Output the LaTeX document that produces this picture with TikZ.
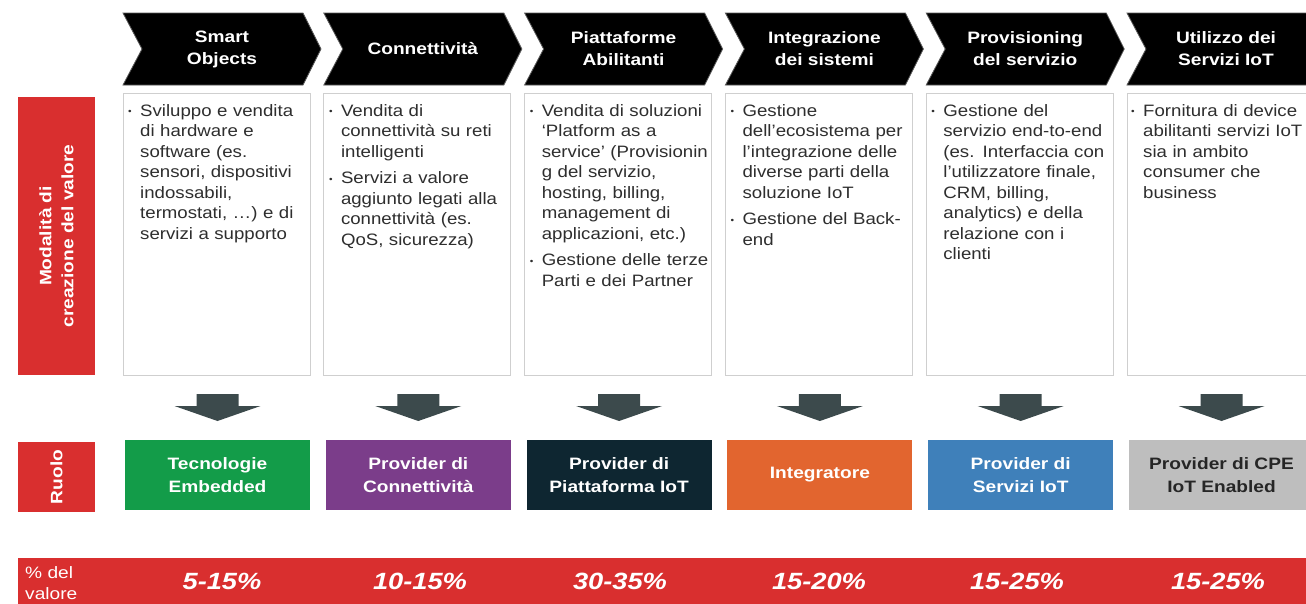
\documentclass[tikz,border=0pt]{standalone}
\usepackage{fontspec}
\setmainfont[FakeStretch=1.16]{Liberation Sans}
\newfontfamily\bodyfont[FakeStretch=1.13]{Liberation Sans}
\usetikzlibrary{positioning}

\definecolor{valred}{HTML}{D92F2F}
\definecolor{arrowgrey}{HTML}{3C4A4C}
\definecolor{boxline}{HTML}{CFCFCF}
\definecolor{bodytext}{HTML}{2E2E2E}
\definecolor{embgreen}{HTML}{139C49}
\definecolor{conpurple}{HTML}{7B3D8A}
\definecolor{platnavy}{HTML}{0E2631}
\definecolor{intorange}{HTML}{E2652F}
\definecolor{servblue}{HTML}{3F80BA}
\definecolor{cpegrey}{HTML}{BEBEBE}

% bullet items, text lines indented past the bullet
\newcommand{\itm}{\leftskip=12pt\noindent\llap{\makebox[12pt][l]{\raisebox{1.5pt}{\fontsize{9}{9}\selectfont\textbullet}}}}
\newcommand{\nextitm}{\par\vspace{6pt}\itm}

\tikzset{
  chevron/.style={fill=black, draw=black!65, line width=0.8pt},
  headtext/.style={text=white, font=\bfseries\fontsize{16.5}{22}\selectfont, align=center},
  textbox/.style={draw=boxline, line width=0.8pt, minimum width=187pt, minimum height=282pt, inner sep=0pt},
  bodytxt/.style={text=bodytext, font=\bodyfont\fontsize{16.5}{20.5}\selectfont, text width=190pt, align=left, inner sep=0pt, anchor=base west},
  blockarrow/.style={fill=arrowgrey},
  rolebox/.style={minimum width=185pt, minimum height=70pt, inner sep=0pt, text=white, font=\bfseries\fontsize{16.5}{23}\selectfont, align=center},
  sidelabel/.style={fill=valred, text=white, inner sep=0pt, font=\bfseries\fontsize{16.5}{22}\selectfont, align=center},
  pcttext/.style={text=white, font=\bfseries\itshape\fontsize{23.5}{26}\selectfont}
}

\begin{document}
\begin{tikzpicture}[x=1pt, y=-1pt]
\clip (0,0) rectangle (1306,603);

% header chevrons
\draw[chevron] (123,13) -- (303,13) -- (321,49) -- (303,85) -- (123,85) -- (142,49) -- cycle;
\node[headtext] (h1) at (222,49) {Smart\\Objects};
\draw[chevron] (323.8,13) -- (503.8,13) -- (521.8,49) -- (503.8,85) -- (323.8,85) -- (342.8,49) -- cycle;
\node[headtext] (h2) at (422.8,49) {Connettività};
\draw[chevron] (524.6,13) -- (704.6,13) -- (722.6,49) -- (704.6,85) -- (524.6,85) -- (543.6,49) -- cycle;
\node[headtext] (h3) at (623.6,49) {Piattaforme\\Abilitanti};
\draw[chevron] (725.4,13) -- (905.4,13) -- (923.4,49) -- (905.4,85) -- (725.4,85) -- (744.4,49) -- cycle;
\node[headtext] (h4) at (824.4,49) {Integrazione\\dei sistemi};
\draw[chevron] (926.2,13) -- (1106.2,13) -- (1124.2,49) -- (1106.2,85) -- (926.2,85) -- (945.2,49) -- cycle;
\node[headtext] (h5) at (1025.2,49) {Provisioning\\del servizio};
\draw[chevron] (1127,13) -- (1307,13) -- (1325,49) -- (1307,85) -- (1127,85) -- (1146,49) -- cycle;
\node[headtext] (h6) at (1226,49) {Utilizzo dei\\Servizi IoT};

% side labels
\node[sidelabel, minimum width=77pt, minimum height=278pt] (modal) at (56.5,236) {};
\node[text=white, font=\bfseries\fontsize{16.5}{22}\selectfont, align=center, rotate=90] (modaltxt) at (modal.center) {Modalità di\\creazione del valore};
\node[sidelabel, minimum width=77pt, minimum height=70pt] (ruolo) at (56.5,477) {};
\node[text=white, font=\bfseries\fontsize{16.5}{22}\selectfont, rotate=90] (ruolotxt) at (ruolo.center) {Ruolo};

% value creation boxes
\node[textbox] (box1) at (216.5,234) {};
\node[bodytxt] (txt1) at (128,116) {\itm Sviluppo e vendita\newline di hardware e\newline software (es.\newline sensori, dispositivi\newline indossabili,\newline termostati, …) e di\newline servizi a supporto\par};
\node[textbox] (box2) at (417.3,234) {};
\node[bodytxt] (txt2) at (328.8,116) {\itm Vendita di\newline connettività su reti\newline intelligenti\nextitm Servizi a valore\newline aggiunto legati alla\newline connettività (es.\newline QoS, sicurezza)\par};
\node[textbox] (box3) at (618.1,234) {};
\node[bodytxt] (txt3) at (529.6,116) {\itm Vendita di soluzioni\newline ‘Platform as a\newline service’ (Provisionin\newline g del servizio,\newline hosting, billing,\newline management di\newline applicazioni, etc.)\nextitm Gestione delle terze\newline Parti e dei Partner\par};
\node[textbox] (box4) at (818.9,234) {};
\node[bodytxt] (txt4) at (730.4,116) {\itm Gestione\newline dell’ecosistema per\newline l’integrazione delle\newline diverse parti della\newline soluzione IoT\nextitm Gestione del Back-\newline end\par};
\node[textbox] (box5) at (1019.7,234) {};
\node[bodytxt] (txt5) at (931.2,116) {\itm Gestione del\newline servizio end-to-end\newline (es. Interfaccia con\newline l’utilizzatore finale,\newline CRM, billing,\newline analytics) e della\newline relazione con i\newline clienti\par};
\node[textbox] (box6) at (1220.5,234) {};
\node[bodytxt] (txt6) at (1131,116) {\itm Fornitura di device\newline abilitanti servizi IoT\newline sia in ambito\newline consumer che\newline business\par};

% block arrows
\fill[blockarrow] (196.5,394) -- (238.5,394) -- (238.5,406) -- (260.5,406) -- (217.5,421) -- (174.5,406) -- (196.5,406) -- cycle;
\fill[blockarrow] (397.3,394) -- (439.3,394) -- (439.3,406) -- (461.3,406) -- (418.3,421) -- (375.3,406) -- (397.3,406) -- cycle;
\fill[blockarrow] (598.1,394) -- (640.1,394) -- (640.1,406) -- (662.1,406) -- (619.1,421) -- (576.1,406) -- (598.1,406) -- cycle;
\fill[blockarrow] (798.9,394) -- (840.9,394) -- (840.9,406) -- (862.9,406) -- (819.9,421) -- (776.9,406) -- (798.9,406) -- cycle;
\fill[blockarrow] (999.7,394) -- (1041.7,394) -- (1041.7,406) -- (1063.7,406) -- (1020.7,421) -- (977.7,406) -- (999.7,406) -- cycle;
\fill[blockarrow] (1200.5,394) -- (1242.5,394) -- (1242.5,406) -- (1264.5,406) -- (1221.5,421) -- (1178.5,406) -- (1200.5,406) -- cycle;

% roles
\node[rolebox, fill=embgreen] (role1) at (217.5,475) {Tecnologie\\Embedded};
\node[rolebox, fill=conpurple] (role2) at (418.3,475) {Provider di\\Connettività};
\node[rolebox, fill=platnavy] (role3) at (619.1,475) {Provider di\\Piattaforma IoT};
\node[rolebox, fill=intorange] (role4) at (819.9,475) {Integratore};
\node[rolebox, fill=servblue] (role5) at (1020.7,475) {Provider di\\Servizi IoT};
\node[rolebox, fill=cpegrey, text=black!85] (role6) at (1221.5,475) {Provider di CPE\\IoT Enabled};

% value share band
\fill[valred] (18,558) rectangle (1310,610);
\node[text=white, font=\fontsize{16.5}{21}\selectfont, align=left, anchor=base west, inner sep=0pt] (pctlabel) at (25,599) {\% del\\valore};
\node[pcttext] (pct1) at (222,581) {5-15\%};
\node[pcttext] (pct2) at (420,581) {10-15\%};
\node[pcttext] (pct3) at (620,581) {30-35\%};
\node[pcttext] (pct4) at (819,581) {15-20\%};
\node[pcttext] (pct5) at (1017,581) {15-25\%};
\node[pcttext] (pct6) at (1218,581) {15-25\%};

\end{tikzpicture}
\end{document}
